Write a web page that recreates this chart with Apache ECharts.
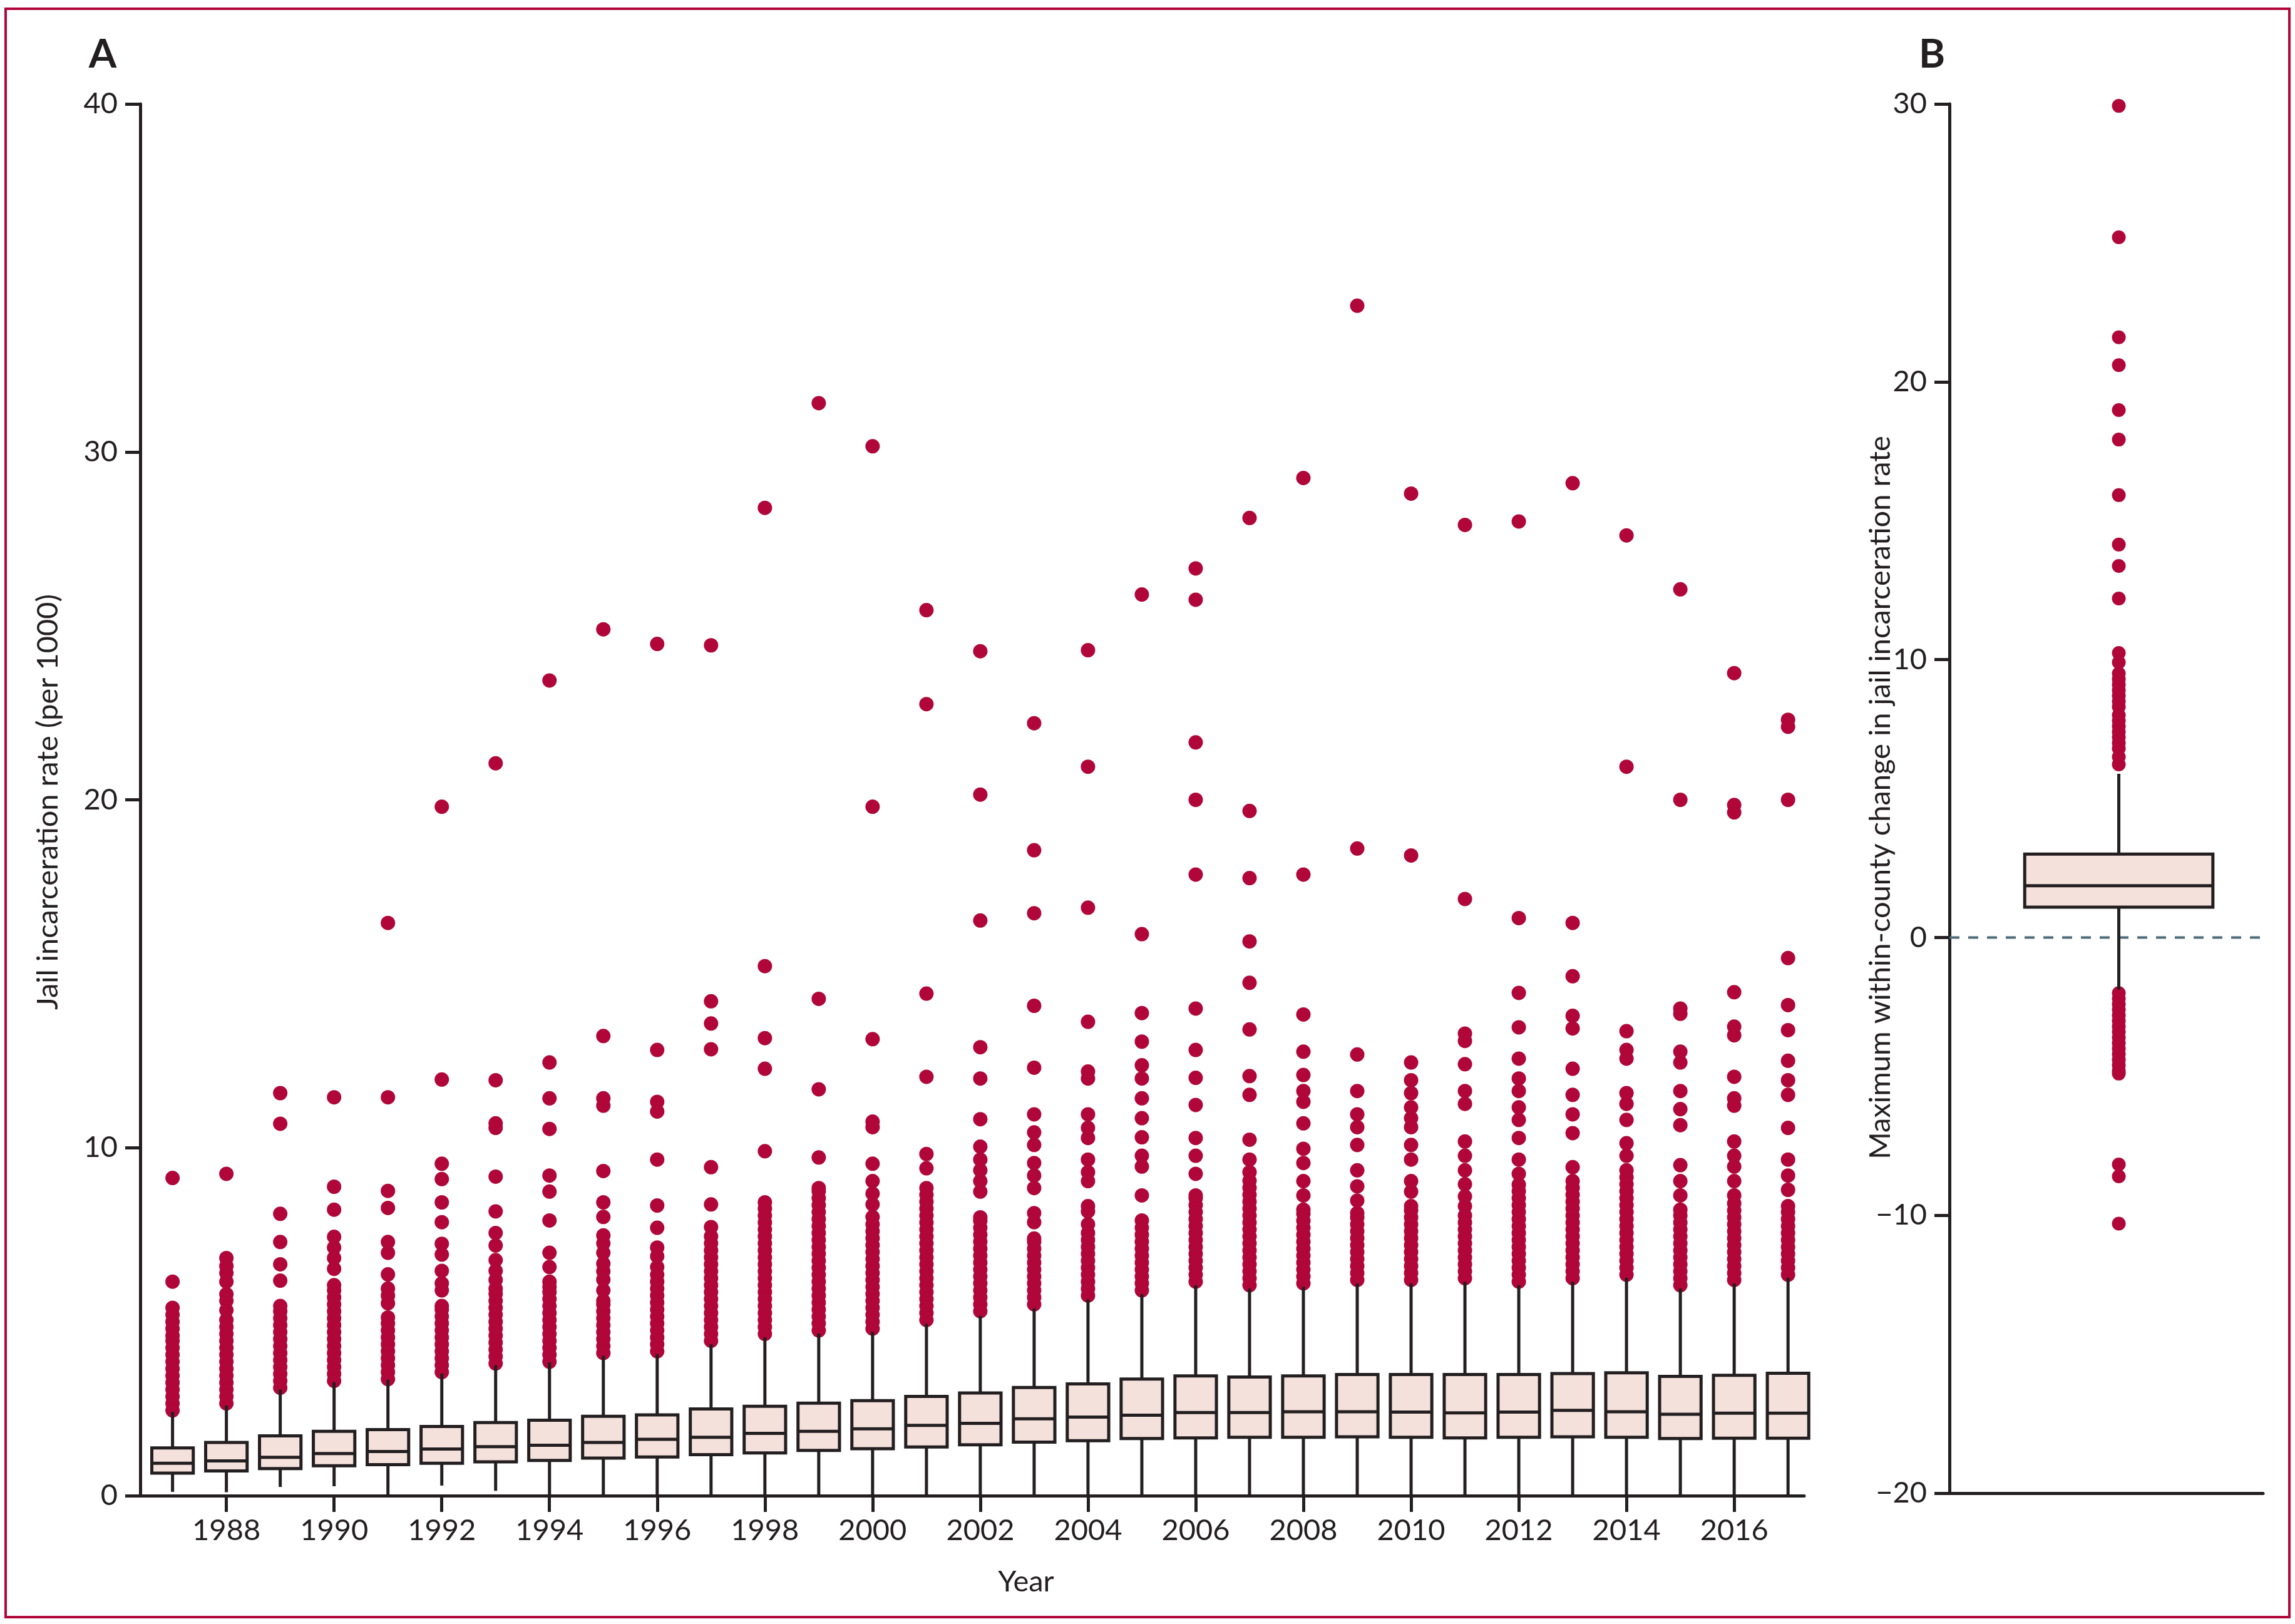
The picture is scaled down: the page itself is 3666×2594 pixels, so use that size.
<!DOCTYPE html>
<html><head><meta charset="utf-8">
<script src="https://cdn.jsdelivr.net/npm/echarts@6/dist/echarts.min.js"></script>
<style>html,body{margin:0;padding:0;background:#fff}#c{width:3666px;height:2594px}</style>
</head><body><div id="c"></div>
<script>
// ---------- Panel A data ----------
const years = [1987,1988,1989,1990,1991,1992,1993,1994,1995,1996,1997,1998,1999,2000,2001,2002,2003,2004,2005,2006,2007,2008,2009,2010,2011,2012,2013,2014,2015,2016,2017];
const whiskerLow = [0.11,0.10,0.25,0.27,0,0.29,0.14,0,0,0,0,0,0,0,0,0,0,0,0,0,0,0,0,0,0,0,0,0,0,0,0];
const q1 =     [0.65,0.71,0.78,0.86,0.89,0.93,0.97,1.01,1.08,1.11,1.18,1.23,1.30,1.35,1.40,1.46,1.54,1.58,1.64,1.66,1.68,1.68,1.69,1.68,1.66,1.68,1.69,1.68,1.64,1.65,1.65];
const median = [0.93,1.00,1.10,1.21,1.27,1.34,1.41,1.45,1.53,1.62,1.68,1.79,1.85,1.92,2.02,2.08,2.21,2.26,2.31,2.39,2.39,2.41,2.41,2.40,2.38,2.40,2.45,2.41,2.34,2.37,2.37];
const q3 =     [1.37,1.53,1.72,1.85,1.90,1.99,2.10,2.17,2.28,2.32,2.49,2.57,2.66,2.73,2.85,2.95,3.11,3.21,3.35,3.44,3.41,3.44,3.48,3.48,3.48,3.48,3.51,3.53,3.43,3.46,3.52];
const whiskerHigh = [2.41,2.59,3.05,3.26,3.33,3.51,3.75,3.83,4.02,4.07,4.35,4.55,4.66,4.71,4.94,5.17,5.38,5.64,5.79,6.05,5.95,6.00,6.10,6.10,6.15,6.05,6.15,6.26,5.95,6.10,6.26];
const outlierValues = [
 [2.45,2.65,2.85,3.05,3.25,3.45,3.65,3.85,4.05,4.25,4.45,4.6,4.8,5.0,5.2,5.4,6.15,9.13],
 [2.65,2.85,3.05,3.25,3.45,3.65,3.85,4.05,4.25,4.45,4.65,4.85,5.05,5.33,5.6,5.79,6.15,6.4,6.6,6.83,9.25],
 [3.1,3.3,3.5,3.7,3.9,4.1,4.3,4.5,4.7,4.9,5.1,5.3,5.45,6.18,6.65,7.29,8.1,10.69,11.57],
 [3.3,3.5,3.7,3.9,4.1,4.3,4.5,4.7,4.9,5.1,5.3,5.5,5.7,5.9,6.05,6.52,6.83,7.13,7.44,8.22,8.88,11.45],
 [3.35,3.55,3.75,3.95,4.15,4.35,4.55,4.75,4.95,5.12,5.53,5.75,5.95,6.36,6.98,7.29,8.27,8.76,11.45,16.46],
 [3.55,3.75,3.95,4.15,4.35,4.55,4.75,4.95,5.15,5.35,5.45,5.9,6.1,6.46,6.93,7.24,7.86,8.43,9.1,9.54,11.96,19.8],
 [3.8,4.0,4.2,4.4,4.6,4.8,5.0,5.2,5.4,5.6,5.8,5.95,6.2,6.46,6.77,7.19,7.55,8.17,9.17,10.57,10.7,11.94,21.05],
 [3.85,4.05,4.25,4.45,4.65,4.85,5.05,5.25,5.45,5.65,5.85,6.0,6.15,6.57,6.98,7.91,8.74,9.2,10.54,11.42,12.45,23.43],
 [4.1,4.3,4.5,4.7,4.9,5.1,5.3,5.5,5.6,5.9,6.21,6.45,6.67,6.98,7.25,7.48,8.01,8.43,9.33,11.21,11.42,13.21,24.9],
 [4.15,4.35,4.55,4.75,4.95,5.15,5.35,5.55,5.75,5.95,6.15,6.35,6.57,6.88,7.13,7.7,8.34,9.66,11.04,11.32,12.81,24.48],
 [4.45,4.65,4.85,5.05,5.25,5.45,5.65,5.85,6.05,6.25,6.45,6.65,6.85,7.05,7.25,7.45,7.72,8.37,9.44,12.83,13.57,14.21,24.44],
 [4.65,4.85,5.05,5.25,5.45,5.65,5.85,6.05,6.25,6.45,6.65,6.85,7.05,7.25,7.45,7.65,7.85,8.05,8.25,8.43,9.9,12.27,13.15,15.22,28.39],
 [4.75,4.95,5.15,5.35,5.55,5.75,5.95,6.15,6.35,6.55,6.75,6.95,7.15,7.35,7.55,7.75,7.95,8.15,8.35,8.55,8.75,8.84,9.72,11.68,14.28,31.4],
 [4.8,5.0,5.2,5.4,5.6,5.8,6.0,6.2,6.4,6.6,6.8,7.0,7.2,7.4,7.6,7.8,8.01,8.37,8.68,9.04,9.54,10.59,10.75,13.12,19.8,30.16],
 [5.05,5.25,5.45,5.65,5.85,6.05,6.25,6.45,6.65,6.85,7.05,7.25,7.45,7.65,7.85,8.05,8.25,8.45,8.65,8.84,9.41,9.82,12.04,14.43,22.75,25.45],
 [5.3,5.5,5.7,5.9,6.1,6.3,6.5,6.7,6.9,7.1,7.3,7.5,7.7,7.9,8.0,8.74,9.04,9.35,9.66,10.03,10.82,11.99,12.89,16.53,20.15,24.27],
 [5.5,5.7,5.9,6.1,6.3,6.5,6.7,6.9,7.1,7.3,7.39,7.86,8.12,8.84,9.2,9.56,10.08,10.44,10.96,12.3,14.08,16.74,18.55,22.2],
 [5.75,5.95,6.15,6.35,6.55,6.75,6.95,7.15,7.35,7.55,7.8,8.17,8.32,9.04,9.3,9.66,10.28,10.57,10.96,11.99,12.19,13.62,16.9,20.95,24.3],
 [5.9,6.1,6.3,6.5,6.7,6.9,7.1,7.3,7.5,7.7,7.91,8.63,9.46,9.77,10.3,10.85,11.42,11.99,12.37,13.05,13.87,16.14,25.9],
 [6.15,6.35,6.55,6.75,6.95,7.15,7.35,7.55,7.75,7.95,8.15,8.35,8.55,8.63,9.25,9.77,10.28,11.23,12.01,12.81,14.0,17.85,20.0,21.65,25.75,26.65],
 [6.05,6.25,6.45,6.65,6.85,7.05,7.25,7.45,7.65,7.85,8.05,8.25,8.45,8.65,8.85,9.05,9.3,9.66,10.23,11.52,12.06,13.4,14.74,15.93,17.75,19.68,28.1],
 [6.1,6.3,6.5,6.7,6.9,7.1,7.3,7.5,7.7,7.9,8.1,8.22,8.63,9.04,9.56,9.97,10.7,11.32,11.63,12.09,12.76,13.83,17.85,29.25],
 [6.2,6.4,6.6,6.8,7.0,7.2,7.4,7.6,7.8,8.0,8.12,8.48,8.89,9.35,10.08,10.59,10.96,11.63,12.68,18.6,34.2],
 [6.2,6.4,6.6,6.8,7.0,7.2,7.4,7.6,7.8,8.0,8.2,8.32,8.74,9.04,9.66,10.08,10.59,10.85,11.16,11.57,11.94,12.45,18.4,28.8],
 [6.25,6.45,6.65,6.85,7.05,7.25,7.45,7.65,7.85,8.05,8.32,8.6,8.95,9.35,9.77,10.18,11.26,11.63,12.4,13.07,13.28,17.15,27.9],
 [6.15,6.35,6.55,6.75,6.95,7.15,7.35,7.55,7.75,7.95,8.15,8.35,8.55,8.75,8.94,9.25,9.66,10.28,10.8,11.16,11.63,11.99,12.56,13.46,14.45,16.6,28.0],
 [6.25,6.45,6.65,6.85,7.05,7.25,7.45,7.65,7.85,8.05,8.25,8.45,8.65,8.85,9.04,9.44,10.42,10.96,11.52,12.27,13.43,13.79,14.93,16.46,29.1],
 [6.35,6.55,6.75,6.95,7.15,7.35,7.55,7.75,7.95,8.15,8.35,8.55,8.75,8.95,9.15,9.35,9.77,10.13,10.8,11.26,11.57,12.56,12.81,13.35,20.95,27.6],
 [6.05,6.25,6.45,6.65,6.85,7.05,7.25,7.45,7.65,7.85,8.05,8.22,8.63,9.04,9.5,10.65,11.11,11.63,12.45,12.76,13.85,14.0,20.0,26.05],
 [6.2,6.4,6.6,6.8,7.0,7.2,7.4,7.6,7.8,8.0,8.2,8.4,8.63,9.04,9.46,9.77,10.18,11.21,11.42,12.04,13.23,13.48,14.47,19.64,19.85,23.64],
 [6.35,6.55,6.75,6.95,7.15,7.35,7.55,7.75,7.95,8.15,8.32,8.79,9.2,9.66,10.57,11.52,11.94,12.5,13.38,14.1,15.45,20.0,22.1,22.3]
];
const xTickYears = [1988,1990,1992,1994,1996,1998,2000,2002,2004,2006,2008,2010,2012,2014,2016];

// ---------- Panel B data ----------
const changeBox = [-1.88, 1.09, 1.86, 3.0, 5.89]; // low whisker, Q1, median, Q3, high whisker
const changeOutliers = [29.93,25.2,21.6,20.6,18.98,17.92,15.92,14.14,13.37,12.2,10.24,9.9,9.5,9.3,9.1,8.9,8.7,8.5,8.3,8.0,7.8,7.6,7.4,7.2,7.0,6.8,6.5,6.23,
  -2.0,-2.2,-2.4,-2.6,-2.8,-3.0,-3.2,-3.4,-3.6,-3.8,-4.0,-4.2,-4.4,-4.6,-4.8,-4.9,-8.17,-8.6,-10.3];

// ---------- styling ----------
const INK = '#231f20';
const RED = '#b0063a';
const FILL = '#f5e1dc';
const FONT = 'Lato';
const LW = 5;

function boxRenderer(frac) {
  return function (params, api) {
    const x = api.value(0);
    const lo = api.coord([x, api.value(1)]);
    const b1 = api.coord([x, api.value(2)]);
    const md = api.coord([x, api.value(3)]);
    const b3 = api.coord([x, api.value(4)]);
    const hi = api.coord([x, api.value(5)]);
    const w = api.size([1, 0])[0] * frac;
    const st = { stroke: INK, lineWidth: LW };
    return { type: 'group', children: [
      { type: 'line', shape: { x1: lo[0], y1: lo[1], x2: b1[0], y2: b1[1] }, style: st },
      { type: 'line', shape: { x1: b3[0], y1: b3[1], x2: hi[0], y2: hi[1] }, style: st },
      { type: 'rect', shape: { x: b1[0] - w / 2, y: b3[1], width: w, height: b1[1] - b3[1] }, style: { fill: FILL, stroke: INK, lineWidth: LW } },
      { type: 'line', shape: { x1: md[0] - w / 2, y1: md[1], x2: md[0] + w / 2, y2: md[1] }, style: st }
    ]};
  };
}

const boxDataA = years.map((y, i) => [y, whiskerLow[i], q1[i], median[i], q3[i], whiskerHigh[i]]);
const outDataA = [];
years.forEach((y, i) => outlierValues[i].forEach(v => outDataA.push([y, v])));
const B_X = 0.54;
const boxDataB = [[B_X].concat(changeBox)];
const outDataB = changeOutliers.map(v => [B_X, v]);

const minus = v => (v < 0 ? '\u2212' + Math.abs(v) : String(v));
const labelStyle = { color: INK, fontFamily: FONT, fontSize: 47 };

const chart = echarts.init(document.getElementById('c'), null, { renderer: 'canvas', devicePixelRatio: 1 });
chart.setOption({
  animation: false,
  backgroundColor: '#fff',
  grid: [
    { left: 224, top: 166, width: 2658, height: 2223, outerBoundsMode: 'none' },
    { left: 3114, top: 166, width: 501, height: 2219, outerBoundsMode: 'none' }
  ],
  xAxis: [
    { gridIndex: 0, type: 'value', min: 1986.4, max: 2017.3,
      axisLine: { show: true, onZero: false, lineStyle: { color: INK, width: LW } },
      axisTick: { show: true, customValues: xTickYears, length: 26, lineStyle: { color: INK, width: LW } },
      axisLabel: Object.assign({ customValues: xTickYears, margin: 32, formatter: v => String(v) }, labelStyle),
      splitLine: { show: false } },
    { gridIndex: 1, type: 'value', min: 0, max: 1,
      axisLine: { show: true, onZero: false, lineStyle: { color: INK, width: LW } },
      axisTick: { show: false }, axisLabel: { show: false }, splitLine: { show: false } }
  ],
  yAxis: [
    { gridIndex: 0, type: 'value', min: 0, max: 40, interval: 10,
      axisLine: { show: true, onZero: false, lineStyle: { color: INK, width: LW } },
      axisTick: { show: true, length: 24, lineStyle: { color: INK, width: LW } },
      axisLabel: Object.assign({ margin: 36, formatter: minus }, labelStyle),
      splitLine: { show: false } },
    { gridIndex: 1, type: 'value', min: -20, max: 30, interval: 10,
      axisLine: { show: true, onZero: false, lineStyle: { color: INK, width: LW } },
      axisTick: { show: true, length: 24, lineStyle: { color: INK, width: LW } },
      axisLabel: Object.assign({ margin: 36, formatter: minus }, labelStyle),
      splitLine: { show: false } }
  ],
  series: [
    { type: 'scatter', xAxisIndex: 0, yAxisIndex: 0, data: outDataA, symbol: 'circle', symbolSize: 23,
      itemStyle: { color: RED, opacity: 1 }, z: 2, clip: false, silent: true },
    { type: 'custom', xAxisIndex: 0, yAxisIndex: 0, data: boxDataA, renderItem: boxRenderer(0.77),
      encode: { x: 0, y: [1, 2, 3, 4, 5] }, z: 3, silent: true },
    { type: 'line', xAxisIndex: 1, yAxisIndex: 1, data: [[0, 0], [1, 0]], symbol: 'none',
      lineStyle: { color: '#4e6b77', width: 4, type: [16, 14] }, z: 1, silent: true },
    { type: 'scatter', xAxisIndex: 1, yAxisIndex: 1, data: outDataB, symbol: 'circle', symbolSize: 22,
      itemStyle: { color: RED, opacity: 1 }, z: 2, clip: false, silent: true },
    { type: 'custom', xAxisIndex: 1, yAxisIndex: 1, data: boxDataB, renderItem: boxRenderer(0.6),
      encode: { x: 0, y: [1, 2, 3, 4, 5] }, z: 3, silent: true }
  ],
  graphic: [
    { type: 'rect', shape: { x: 9, y: 14, width: 3648, height: 2569 }, style: { fill: 'none', stroke: RED, lineWidth: 4 }, silent: true },
    { type: 'text', x: 164, y: 87, style: { text: 'A', fill: INK, font: 'bold 64px ' + FONT, textAlign: 'center', textVerticalAlign: 'middle' } },
    { type: 'text', x: 3086, y: 87, style: { text: 'B', fill: INK, font: 'bold 64px ' + FONT, textAlign: 'center', textVerticalAlign: 'middle' } },
    { type: 'text', x: 77, y: 1281, rotation: Math.PI / 2, style: { text: 'Jail incarceration rate (per 1000)', fill: INK, font: '47px ' + FONT, textAlign: 'center', textVerticalAlign: 'middle' } },
    { type: 'text', x: 1639, y: 2527, style: { text: 'Year', fill: INK, font: '47px ' + FONT, textAlign: 'center', textVerticalAlign: 'middle' } },
    { type: 'text', x: 3004, y: 1274, rotation: Math.PI / 2, style: { text: 'Maximum within-county change in jail incarceration rate', fill: INK, font: '47px ' + FONT, textAlign: 'center', textVerticalAlign: 'middle' } }
  ]
});
</script></body></html>
